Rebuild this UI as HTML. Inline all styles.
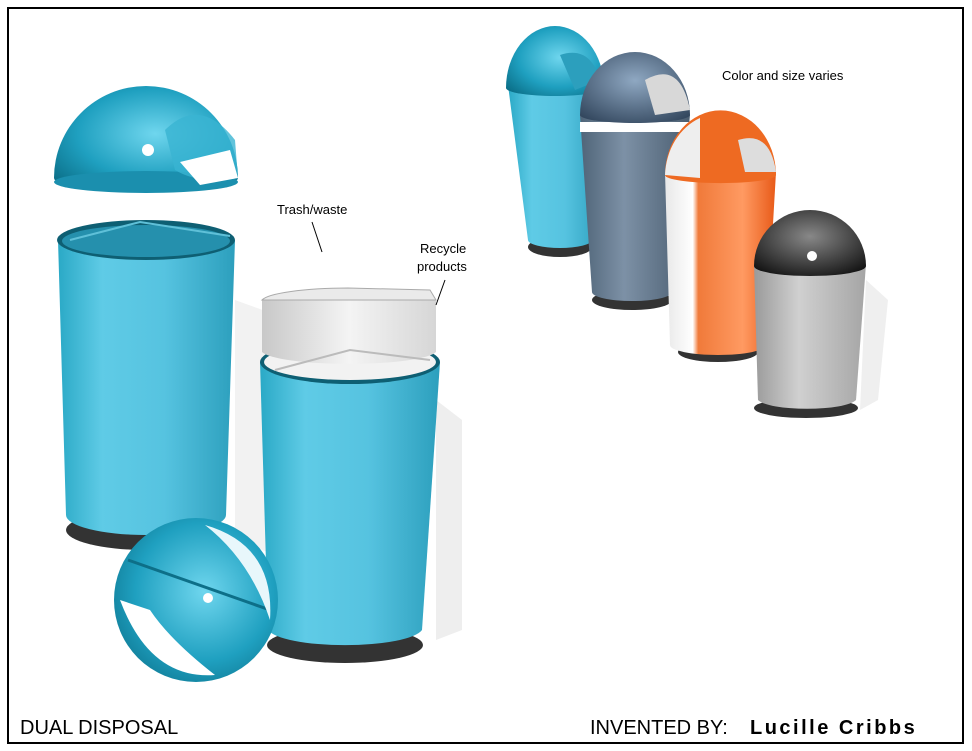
<!DOCTYPE html>
<html><head><meta charset="utf-8"><style>
html,body{margin:0;padding:0;background:#fff}
svg{display:block}
text{font-family:"Liberation Sans",sans-serif}
</style></head><body>
<svg width="972" height="751" viewBox="0 0 972 751" xmlns="http://www.w3.org/2000/svg">
<defs>
<linearGradient id="cy" x1="0" x2="1"><stop offset="0" stop-color="#2aa9c6"/><stop offset=".25" stop-color="#5fcbe6"/><stop offset=".6" stop-color="#56c3e0"/><stop offset="1" stop-color="#2c9fbd"/></linearGradient>
<radialGradient id="dome" cx=".55" cy=".45" r=".7"><stop offset="0" stop-color="#6fd6ee"/><stop offset=".6" stop-color="#1fa0c0"/><stop offset="1" stop-color="#0b6f88"/></radialGradient>
<linearGradient id="bl" x1="0" x2="1"><stop offset="0" stop-color="#4f6478"/><stop offset=".4" stop-color="#7d91a6"/><stop offset="1" stop-color="#4a5d70"/></linearGradient>
<radialGradient id="bld" cx=".5" cy=".4" r=".7"><stop offset="0" stop-color="#8fa8c2"/><stop offset="1" stop-color="#33475e"/></radialGradient>
<linearGradient id="or" x1="0" x2="1"><stop offset="0" stop-color="#e8e8e8"/><stop offset=".25" stop-color="#fff"/><stop offset=".3" stop-color="#f07a3a"/><stop offset=".7" stop-color="#ff9a62"/><stop offset="1" stop-color="#e85a18"/></linearGradient>
<linearGradient id="gr" x1="0" x2="1"><stop offset="0" stop-color="#9a9a9a"/><stop offset=".4" stop-color="#d0d0d0"/><stop offset="1" stop-color="#a5a5a5"/></linearGradient>
<radialGradient id="blk" cx=".5" cy=".4" r=".7"><stop offset="0" stop-color="#888"/><stop offset="1" stop-color="#111"/></radialGradient>
<linearGradient id="wh" x1="0" x2="1"><stop offset="0" stop-color="#c8c8c8"/><stop offset=".5" stop-color="#f4f4f4"/><stop offset="1" stop-color="#d6d6d6"/></linearGradient>
</defs>
<rect x="8" y="8" width="955" height="735" fill="#fff" stroke="#000" stroke-width="2"/>

<!-- shadows -->
<path d="M235 300 L290 320 L290 560 L235 540Z" fill="#f2f2f2"/>
<path d="M436 400 L462 420 L462 630 L436 640Z" fill="#eeeeee"/>
<path d="M866 280 L888 300 L878 400 L860 410Z" fill="#efefef"/>

<!-- left tall cylinder -->
<ellipse cx="146" cy="530" rx="80" ry="20" fill="#333"/>
<path d="M58 240 L66 515 A80 20 0 0 0 226 515 L235 240Z" fill="url(#cy)"/>
<ellipse cx="146" cy="240" rx="89" ry="20" fill="#0e5f73"/>
<ellipse cx="146" cy="241" rx="84" ry="16" fill="#2590ad"/>
<path d="M70 240 L140 222 L230 236" fill="none" stroke="#5fc0d8" stroke-width="2"/>

<!-- dome lid -->
<path d="M54 178 A92 92 0 0 1 238 178 A92 14 0 0 1 54 178Z" fill="url(#dome)"/>
<ellipse cx="146" cy="182" rx="92" ry="11" fill="#1b8fae"/>
<path d="M165 130 Q200 95 235 140 L238 178 Q200 185 175 170Z" fill="#3ab4d2" opacity=".8"/>
<path d="M180 162 L230 150 L238 178 L200 185Z" fill="#fff"/>
<circle cx="148" cy="150" r="6" fill="#fff"/>

<!-- right cylinder -->
<ellipse cx="345" cy="645" rx="78" ry="18" fill="#333"/>
<path d="M260 362 L268 630 A78 18 0 0 0 422 630 L440 362Z" fill="url(#cy)"/>
<ellipse cx="350" cy="362" rx="90" ry="22" fill="#0e5f73"/>
<ellipse cx="350" cy="362" rx="86" ry="18" fill="#f2f2f2"/>
<path d="M262 300 L262 352 A88 14 0 0 0 436 352 L436 300Z" fill="url(#wh)"/>
<path d="M262 300 A88 14 0 0 1 348 288 L430 290 L436 300Z" fill="#eaeaea" stroke="#aaa"/>
<path d="M275 370 L350 350 L430 360" fill="none" stroke="#bbb" stroke-width="2"/>

<!-- sphere -->
<circle cx="196" cy="600" r="82" fill="url(#dome)"/>
<path d="M120 600 Q150 680 215 675 Q170 640 150 610Z" fill="#fff"/>
<path d="M128 560 L270 610" stroke="#0d6f88" stroke-width="3"/>
<path d="M205 525 Q275 545 270 620 Q250 560 205 525Z" fill="#e8f7fb"/>
<circle cx="208" cy="598" r="5" fill="#fff"/>

<!-- right group -->
<ellipse cx="560" cy="247" rx="32" ry="10" fill="#333"/>
<path d="M508 85 L528 240 A32 8 0 0 0 592 240 L603 85Z" fill="url(#cy)"/>
<path d="M506 88 A49 62 0 0 1 604 88 A49 8 0 0 1 506 88Z" fill="url(#dome)"/>
<path d="M560 55 Q590 45 600 80 L575 90Z" fill="#2c9fbd"/>
<ellipse cx="632" cy="300" rx="40" ry="10" fill="#333"/>
<path d="M580 115 L592 292 A40 9 0 0 0 672 292 L690 115Z" fill="url(#bl)"/>
<rect x="580" y="122" width="110" height="10" fill="#fff"/>
<path d="M580 115 A55 63 0 0 1 690 115 A55 8 0 0 1 580 115Z" fill="url(#bld)"/>
<path d="M645 80 Q680 60 690 110 L655 115Z" fill="#d8d8d8"/>
<ellipse cx="718" cy="352" rx="40" ry="10" fill="#333"/>
<path d="M665 172 L670 345 A48 10 0 0 0 766 345 L776 172Z" fill="url(#or)"/>
<path d="M665 175 A55 64 0 0 1 776 175 A55 8 0 0 1 665 175Z" fill="#ee6a22"/>
<path d="M665 175 A55 64 0 0 1 700 118 L700 178Z" fill="#eee"/>
<path d="M738 140 Q770 130 776 172 L745 172Z" fill="#ddd"/>
<ellipse cx="806" cy="408" rx="52" ry="10" fill="#333"/>
<path d="M754 264 L758 400 A50 11 0 0 0 856 400 L866 264Z" fill="url(#gr)"/>
<path d="M754 266 A56 56 0 0 1 866 266 A56 10 0 0 1 754 266Z" fill="url(#blk)"/>
<circle cx="812" cy="256" r="5" fill="#fff"/>

<!-- labels -->
<text x="277" y="214" font-size="13">Trash/waste</text>
<line x1="312" y1="222" x2="322" y2="252" stroke="#000"/>
<text x="420" y="253" font-size="13">Recycle</text>
<text x="417" y="271" font-size="13">products</text>
<line x1="445" y1="280" x2="436" y2="305" stroke="#000"/>
<text x="722" y="80" font-size="13">Color and size varies</text>

<text x="20" y="734" font-size="20">DUAL DISPOSAL</text>
<text x="590" y="734" font-size="20">INVENTED BY:</text>
<text x="750" y="734" font-size="20" font-weight="bold" letter-spacing="2.5">Lucille Cribbs</text>
</svg>
</body></html>
